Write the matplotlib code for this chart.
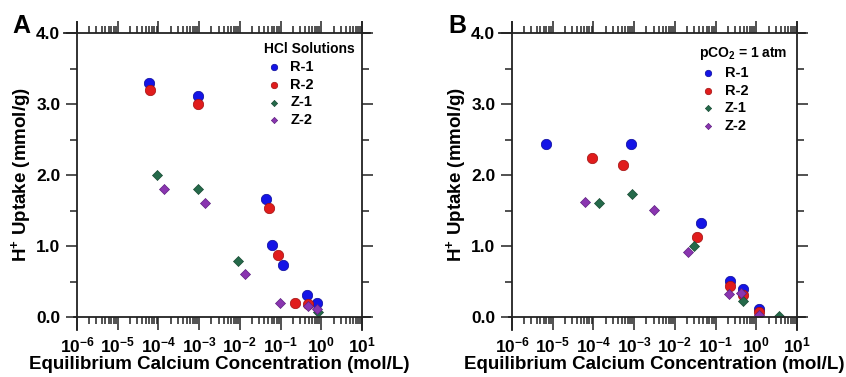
import numpy as np
import matplotlib
matplotlib.use("Agg")
import matplotlib.pyplot as plt
from matplotlib.lines import Line2D
from matplotlib.ticker import FixedLocator, FuncFormatter, LogLocator, MultipleLocator, NullFormatter

plt.rcParams['font.family'] = ['Liberation Sans', 'DejaVu Sans']
plt.rcParams['font.weight'] = 'bold'
plt.rcParams['mathtext.fontset'] = 'custom'
plt.rcParams['mathtext.rm'] = 'Liberation Sans:bold'
plt.rcParams['mathtext.bf'] = 'Liberation Sans:bold'
plt.rcParams['mathtext.it'] = 'Liberation Sans:bold:italic'
plt.rcParams['mathtext.default'] = 'bf'

# ---------------- data ----------------
series_names = ["R-1", "R-2", "Z-1", "Z-2"]

# Panel A: HCl solutions
A_R1_x = [6.0e-5, 9.2e-4, 0.044, 0.060, 0.117, 0.44, 0.77]
A_R1_y = [3.30, 3.11, 1.66, 1.02, 0.73, 0.31, 0.20]
A_R2_x = [6.1e-5, 9.5e-4, 0.052, 0.088, 0.226, 0.46]
A_R2_y = [3.20, 3.00, 1.53, 0.88, 0.20, 0.18]
A_Z1_x = [9.3e-5, 9.5e-4, 9.1e-3, 0.82]
A_Z1_y = [2.00, 1.80, 0.79, 0.07]
A_Z2_x = [1.38e-4, 1.38e-3, 0.0134, 0.098, 0.47, 0.80]
A_Z2_y = [1.80, 1.60, 0.60, 0.20, 0.15, 0.11]

# Panel B: pCO2 = 1 atm
B_R1_x = [6.8e-6, 8.3e-4, 0.0434, 0.22, 0.46, 1.19]
B_R1_y = [2.44, 2.44, 1.32, 0.51, 0.39, 0.11]
B_R2_x = [9.3e-5, 5.3e-4, 0.0345, 0.22, 0.48, 1.19]
B_R2_y = [2.24, 2.14, 1.12, 0.44, 0.31, 0.07]
B_Z1_x = [1.38e-4, 8.9e-4, 0.0295, 0.46, 3.6]
B_Z1_y = [1.61, 1.73, 1.00, 0.23, 0.02]
B_Z2_x = [6.1e-5, 3.1e-3, 0.0214, 0.21, 0.41, 1.19]
B_Z2_y = [1.62, 1.51, 0.91, 0.33, 0.34, 0.03]

y_ticks = [0.0, 1.0, 2.0, 3.0, 4.0]
x_exponents = [-6, -5, -4, -3, -2, -1, 0, 1]

colors = {"R-1": "#1414e6", "R-2": "#e01c1c", "Z-1": "#256a4a", "Z-2": "#8a35b0"}
edges = {"R-1": "#0a0a9a", "R-2": "#a01010", "Z-1": "#184a33", "Z-2": "#5e2080"}
markers = {"R-1": "o", "R-2": "o", "Z-1": "D", "Z-2": "D"}
sizes = {"R-1": 56, "R-2": 56, "Z-1": 26, "Z-2": 26}

W, H = 846, 377
fig = plt.figure(figsize=(W / 100, H / 100), dpi=100)


def px_axes(left, top, right, bottom):
    return [left / W, 1 - bottom / H, (right - left) / W, (bottom - top) / H]


def style_axes(ax):
    ax.set_xscale('log')
    ax.set_xlim(1e-6, 1e1)
    ax.set_ylim(0, 4)
    for s in ax.spines.values():
        s.set_visible(False)
    lw = 1.3
    ext = dict(color='#222222', lw=lw, transform=ax.transAxes, clip_on=False, zorder=5)
    axw, axh = 285.0, 284.0
    ax.add_line(Line2D([-13 / axw, 1 + 8 / axw], [1, 1], **ext))
    ax.add_line(Line2D([-3 / axw, 1 + 8 / axw], [0, 0], **ext))
    ax.add_line(Line2D([0, 0], [-13 / axh, 1 + 11 / axh], **ext))
    ax.add_line(Line2D([1, 1], [-13 / axh, 1 + 11 / axh], **ext))
    ax.xaxis.set_major_locator(FixedLocator([10.0 ** e for e in x_exponents]))
    ax.xaxis.set_minor_locator(LogLocator(base=10, subs=np.arange(2, 10), numticks=20))
    ax.xaxis.set_major_formatter(FuncFormatter(lambda v, p: r"$10^{%d}$" % int(round(np.log10(v)))))
    ax.xaxis.set_minor_formatter(NullFormatter())
    ax.yaxis.set_major_locator(FixedLocator(y_ticks))
    ax.yaxis.set_minor_locator(MultipleLocator(0.5))
    ax.yaxis.set_major_formatter(FuncFormatter(lambda v, p: "%.1f" % v))
    ax.tick_params(which='both', direction='out', top=True, right=True, width=1.1, color='#222222')
    ax.tick_params(which='major', length=8, labelsize=12.5, pad=4)
    ax.tick_params(which='minor', length=5)
    ax.tick_params(axis='x', which='major', length=9, pad=4)
    ax.set_xlabel("Equilibrium Calcium Concentration (mol/L)", fontsize=13.5, fontweight='bold', labelpad=1)
    ax.set_ylabel(r"H$^{+}$ Uptake (mmol/g)", fontsize=13.5, fontweight='bold', labelpad=2)


def plot_panel(ax, data, title, anchor):
    for name in series_names:
        xs, ys = data[name]
        ax.scatter(xs, ys, s=sizes[name], marker=markers[name], c=colors[name],
                   edgecolors=edges[name], linewidths=0.5, label=name, zorder=3)
    leg = ax.legend(title=title, loc='upper right', bbox_to_anchor=anchor, frameon=False,
                    fontsize=10.5, title_fontproperties={'weight': 'bold', 'size': 10},
                    handlelength=1.3, handletextpad=0.5, labelspacing=0.26, borderpad=0,
                    borderaxespad=0, markerscale=0.62, alignment='left')
    for t in leg.get_texts():
        t.set_fontweight('bold')


axA = fig.add_axes(px_axes(77, 33, 362, 317))
style_axes(axA)
plot_panel(axA, {"R-1": (A_R1_x, A_R1_y), "R-2": (A_R2_x, A_R2_y),
                 "Z-1": (A_Z1_x, A_Z1_y), "Z-2": (A_Z2_x, A_Z2_y)},
           "HCl Solutions", (0.975, 0.968))

axB = fig.add_axes(px_axes(512, 33, 797, 317))
style_axes(axB)
plot_panel(axB, {"R-1": (B_R1_x, B_R1_y), "R-2": (B_R2_x, B_R2_y),
                 "Z-1": (B_Z1_x, B_Z1_y), "Z-2": (B_Z2_x, B_Z2_y)},
           r"pCO$_{2}$ = 1 atm", (0.965, 0.958))

fig.text(12 / W, 1 - 33 / H, "A", fontsize=18, fontweight='bold', ha='left', va='baseline')
fig.text(448 / W, 1 - 33 / H, "B", fontsize=18, fontweight='bold', ha='left', va='baseline')

fig.savefig("out.png", dpi=100)
